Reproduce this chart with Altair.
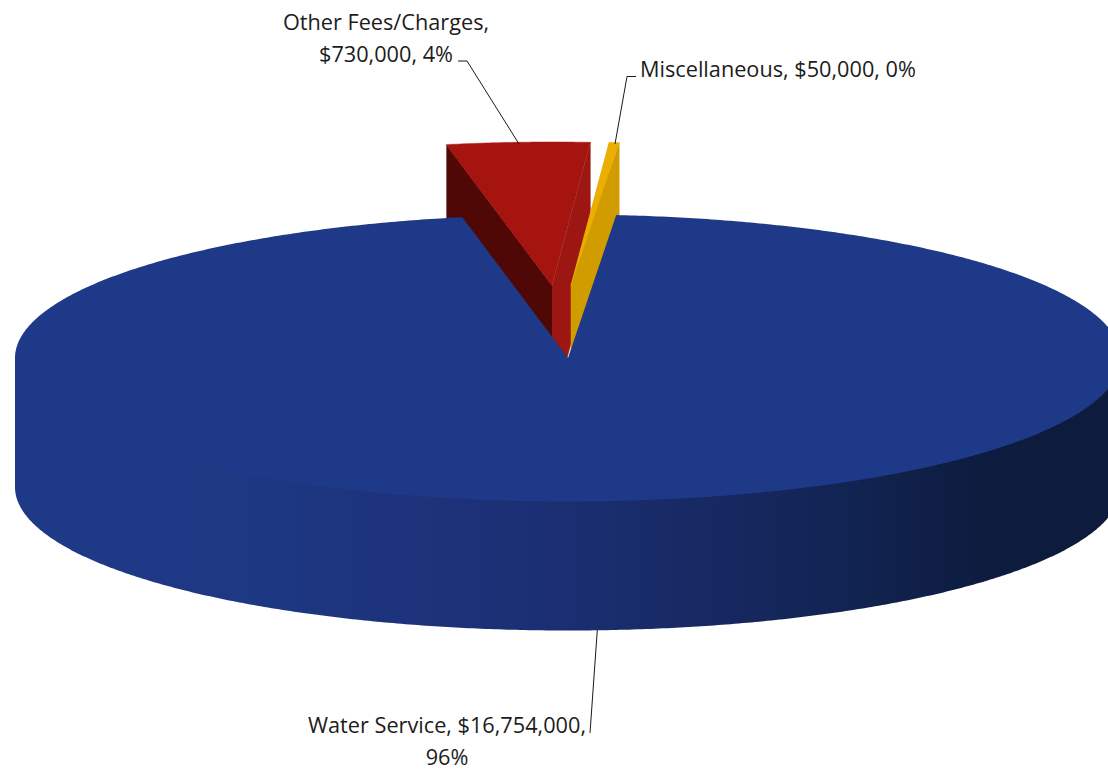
import math
import altair as alt
import pandas as pd

# Revenue sources, in dollars, in pie order (clockwise from the first-slice angle).
categories = ["Water Service", "Other Fees/Charges", "Miscellaneous"]
amounts = [16754000, 730000, 50000]

# Projection of the tilted pie onto the canvas.
WIDTH, HEIGHT = 1108, 770
CX, CY = 568.0, 358.0
RX, RY = 553.0, 143.5
DEPTH = 129.0
FIRST_SLICE_DEG = 5.0
EXPLODE = {"Other Fees/Charges": (-16.0, -72.5), "Miscellaneous": (3.0, -72.5)}

FONT = "Open Sans"
FONT_SIZE = 21.7
TEXT_COLOR = "#1c1c1c"

total = sum(amounts)
spans = {}
angle = FIRST_SLICE_DEG
for name, amount in zip(categories, amounts):
    sweep = 360.0 * amount / total
    spans[name] = (angle, angle + sweep)
    angle += sweep


def rim(theta_deg, dx=0.0, dy=0.0):
    t = math.radians(theta_deg)
    return (CX + dx + RX * math.sin(t), CY + dy - RY * math.cos(t))


def arc(start, end, dx=0.0, dy=0.0, steps=120):
    return [rim(start + (end - start) * i / steps, dx, dy) for i in range(steps + 1)]


X = alt.X("x:Q", scale=alt.Scale(domain=[0, WIDTH], nice=False, zero=False), axis=None)
Y = alt.Y("y:Q", scale=alt.Scale(domain=[HEIGHT, 0], nice=False, zero=False), axis=None)


def polygon(points, fill, edge=0):
    """A filled outline; a thin edge in the same colour closes seams between faces."""
    frame = pd.DataFrame(points, columns=["x", "y"])
    frame["i"] = range(len(frame))
    return (
        alt.Chart(frame)
        .mark_line(fill=fill, stroke=fill, strokeWidth=edge, interpolate="linear", clip=True)
        .encode(x=X, y=Y, order=alt.Order("i:Q"))
    )


def exploded_slice(name, top, left_wall, right_wall):
    """Walls and top face of a slice pulled away from the pie."""
    start, end = spans[name]
    dx, dy = EXPLODE[name]
    apex = (CX + dx, CY + dy)
    a, b = rim(start, dx, dy), rim(end, dx, dy)
    drop = lambda p: (p[0], p[1] + DEPTH)
    return [
        polygon([a, apex, drop(apex), drop(a)], left_wall, edge=0.5),
        polygon([apex, b, drop(b), drop(apex)], right_wall, edge=0.5),
        polygon([apex] + arc(start, end, dx, dy, 40), top, edge=0.5),
    ]


water_start, water_end = spans["Water Service"]

# Outer wall of the pie: the front half of the rim swept down by the depth.
# It starts at the centre line so that it runs on under the top face without a seam.
front = pd.DataFrame(arc(270, 90, steps=400), columns=["x", "y"])
front["y2"] = front["y"] + DEPTH
front["y"] = CY
wall_fill = alt.Gradient(
    gradient="linear",
    x1=0, x2=1, y1=0, y2=0,
    stops=[
        alt.GradientStop(offset=0.0, color="#1e3987"),
        alt.GradientStop(offset=0.20, color="#1e3884"),
        alt.GradientStop(offset=0.50, color="#1b2e72"),
        alt.GradientStop(offset=0.75, color="#122452"),
        alt.GradientStop(offset=0.88, color="#0d1b3e"),
        alt.GradientStop(offset=1.0, color="#0d1b3c"),
    ],
)
outer_wall = (
    alt.Chart(front)
    .mark_area(fill=wall_fill, clip=True)
    .encode(x=X, y=Y, y2="y2:Q")
)

water_top = polygon(
    [(CX, CY)] + arc(water_start, water_end, steps=720),
    "#1e3987",
)

# Slice labels are assembled from the amounts and wrapped where the layout needs it.
label_rows = []
label_layout = {
    "Other Fees/Charges": (386, [30, 62], "center", 1),
    "Miscellaneous": (640, [77], "left", None),
    "Water Service": (447, [733, 765], "center", 2),
}
for name, amount in zip(categories, amounts):
    parts = [name + ",", f"${amount:,},", f"{amount / total * 100:.0f}%"]
    x, ys, align, split = label_layout[name]
    if split is None:
        lines = [" ".join(parts)]
    else:
        lines = [" ".join(parts[:split]), " ".join(parts[split:])]
    for line, y in zip(lines, ys):
        label_rows.append({"x": x, "y": y, "text": line, "align": align})
labels = pd.DataFrame(label_rows)

text_layers = [
    alt.Chart(labels[labels["align"] == align])
    .mark_text(font=FONT, fontSize=FONT_SIZE, color=TEXT_COLOR, align=align, baseline="alphabetic")
    .encode(x=X, y=Y, text="text:N")
    for align in ["center", "left"]
]

# Leader lines from each label to its slice.
leader_paths = {
    "Other Fees/Charges": [(458, 61), (467, 61), (519, 144)],
    "Miscellaneous": [(636, 76.5), (627, 76.5), (615, 144)],
    "Water Service": [(597.3, 630), (590, 733)],
}
leaders = pd.DataFrame(
    [
        {"slice": name, "i": i, "x": p[0], "y": p[1]}
        for name, path in leader_paths.items()
        for i, p in enumerate(path)
    ]
)
leader_lines = (
    alt.Chart(leaders)
    .mark_line(color="#1a1a1a", strokeWidth=1)
    .encode(x=X, y=Y, detail="slice:N", order="i:Q")
)

chart = alt.layer(
    *exploded_slice("Other Fees/Charges", "#a5140f", "#4f0806", "#9c1712"),
    *exploded_slice("Miscellaneous", "#ecae00", "#d09c00", "#d09c00"),
    outer_wall,
    water_top,
    leader_lines,
    *text_layers,
).properties(
    width=WIDTH,
    height=HEIGHT,
    padding=0,
    autosize=alt.AutoSizeParams(type="none"),
    background="white",
).configure_view(stroke=None)

chart.save("out.html", embed_options={"renderer": "svg", "actions": False})
